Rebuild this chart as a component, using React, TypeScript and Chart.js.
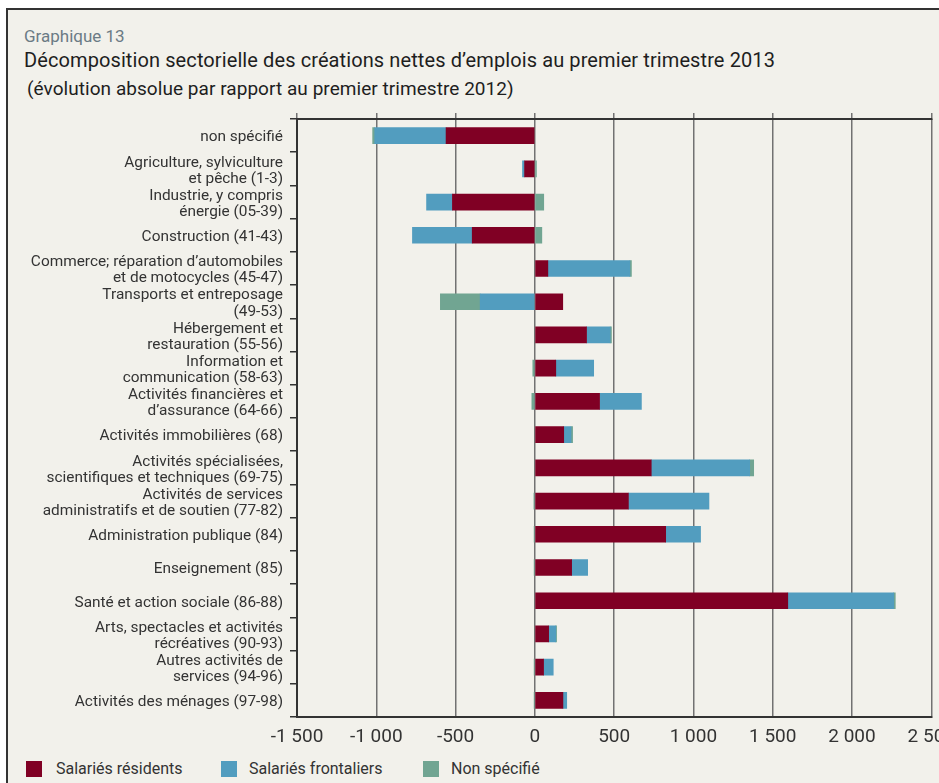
import React, { useEffect, useRef } from 'react';
import { Chart, registerables } from 'chart.js';

Chart.register(...registerables);

// ---- Data ----
const categories: string[][] = [
  ['non spécifié'],
  ['Agriculture, sylviculture', 'et pêche (1-3)'],
  ['Industrie, y compris', 'énergie (05-39)'],
  ['Construction (41-43)'],
  ['Commerce; réparation d’automobiles', 'et de motocycles (45-47)'],
  ['Transports et entreposage', '(49-53)'],
  ['Hébergement et', 'restauration (55-56)'],
  ['Information et', 'communication (58-63)'],
  ['Activités financières et', 'd’assurance (64-66)'],
  ['Activités immobilières (68)'],
  ['Activités spécialisées,', 'scientifiques et techniques (69-75)'],
  ['Activités de services', 'administratifs et de soutien (77-82)'],
  ['Administration publique (84)'],
  ['Enseignement (85)'],
  ['Santé et action sociale (86-88)'],
  ['Arts, spectacles et activités', 'récréatives (90-93)'],
  ['Autres activités de', 'services (94-96)'],
  ['Activités des ménages (97-98)'],
];

const salariesResidents = [-560, -65, -520, -395, 82, 176, 326, 132, 408, 182, 734, 590, 825, 232, 1595, 87, 55, 177];
const salariesFrontaliers = [-450, -13, -163, -377, 517, -345, 149, 239, 264, 46, 621, 508, 220, 101, 668, 45, 61, 24];
const nonSpecifie = [-13, 10, 56, 44, 10, -251, 8, -13, -19, 10, 25, -6, -4, -4, 10, 5, -4, -4];

const seriesNames = ['Salariés résidents', 'Salariés frontaliers', 'Non spécifié'];
const seriesColors = ['#800024', '#529dbf', '#71a592'];

const xMin = -1500;
const xMax = 2500;
const xStep = 500;

const chartTitleSmall = 'Graphique 13';
const chartTitle = 'Décomposition sectorielle des créations nettes d\u2019emplois au premier trimestre 2013';
const chartSubtitle = '(évolution absolue par rapport au premier trimestre 2012)';

const FONT = 'Roboto, "DejaVu Sans", sans-serif';
const BG = '#f2f1eb';

function formatTick(v: number): string {
  const s = Math.abs(v).toString();
  const withSpace = s.length > 3 ? s.slice(0, s.length - 3) + ' ' + s.slice(s.length - 3) : s;
  return (v < 0 ? '-' : '') + withSpace;
}

// frame inner origin in page coords
const OX = 8;
const OY = 10;

export default function App() {
  const ref = useRef<HTMLCanvasElement>(null);

  useEffect(() => {
    if (!ref.current) return;
    const chart = new Chart(ref.current, {
      type: 'bar',
      data: {
        labels: categories,
        datasets: [
          { label: seriesNames[0], data: salariesResidents, backgroundColor: seriesColors[0], barThickness: 16, borderWidth: 0 },
          { label: seriesNames[1], data: salariesFrontaliers, backgroundColor: seriesColors[1], barThickness: 16, borderWidth: 0 },
          { label: seriesNames[2], data: nonSpecifie, backgroundColor: seriesColors[2], barThickness: 16, borderWidth: 0 },
        ],
      },
      options: {
        indexAxis: 'y',
        responsive: false,
        animation: false,
        layout: { padding: { top: 13, right: 30, left: 0, bottom: 0 } },
        plugins: {
          legend: { display: false },
          tooltip: { enabled: false },
        },
        scales: {
          x: {
            type: 'linear',
            position: 'bottom',
            stacked: true,
            min: xMin,
            max: xMax,
            ticks: {
              stepSize: xStep,
              callback: (v: any) => formatTick(Number(v)),
              font: { family: FONT, size: 19 },
              color: '#333',
              padding: 9,
              maxRotation: 0,
              autoSkip: false,
            },
            grid: { color: '#727272', lineWidth: 1.5, drawTicks: false },
            border: { display: true, color: '#333', width: 2 },
            afterFit: (s: any) => { s.height = 40; },
          },
          x2: {
            type: 'linear',
            position: 'top',
            min: xMin,
            max: xMax,
            ticks: { display: false, stepSize: xStep },
            grid: { drawOnChartArea: false, drawTicks: true, tickLength: 6, color: '#727272', lineWidth: 1.5 },
            border: { display: true, color: '#333', width: 2 },
          },
          y: {
            stacked: true,
            ticks: {
              font: { family: FONT, size: 15.4, lineHeight: 1.05 },
              color: '#333',
              padding: 7,
              autoSkip: false,
              labelOffset: 2,
            },
            grid: { offset: true, drawOnChartArea: false, drawTicks: true, tickLength: 7, color: '#333', lineWidth: 1.5 },
            border: { display: true, color: '#333', width: 2 },
            afterFit: (s: any) => { s.width = 289; },
          },
        },
      },
    });
    return () => chart.destroy();
  }, []);

  const textStyle = (left: number, top: number, size: number, color: string, ls = 0): React.CSSProperties => ({
    position: 'absolute',
    left: left - OX,
    top: top - OY,
    fontFamily: FONT,
    fontSize: size,
    lineHeight: '1',
    color,
    whiteSpace: 'nowrap',
    letterSpacing: ls,
  });

  const legendItems = [
    { sq: 26, tx: 56 },
    { sq: 221, tx: 249 },
    { sq: 423, tx: 451 },
  ];

  return (
    <div
      style={{
        position: 'fixed',
        left: 6,
        top: 8,
        right: 0,
        bottom: 0,
        borderLeft: '2px solid #333',
        borderTop: '2px solid #333',
        background: BG,
        overflow: 'hidden',
      }}
    >
      <div style={textStyle(24, 27.7, 17, '#6b7b85')}>{chartTitleSmall}</div>
      <div style={textStyle(24, 50, 20, '#1e1e1e', 0.1)}>{chartTitle}</div>
      <div style={textStyle(27, 79, 19, '#1e1e1e', 0.05)}>{chartSubtitle}</div>
      <canvas
        ref={ref}
        width={956}
        height={657}
        style={{ position: 'absolute', left: 8 - OX, top: 100 - OY, width: 956, height: 657 }}
      />
      {seriesNames.map((name, i) => (
        <React.Fragment key={name}>
          <div
            style={{
              position: 'absolute',
              left: legendItems[i].sq - OX,
              top: 761 - OY,
              width: 16,
              height: 16,
              background: seriesColors[i],
            }}
          />
          <div style={textStyle(legendItems[i].tx, 761, 16, '#333', 0)}>{name}</div>
        </React.Fragment>
      ))}
    </div>
  );
}
